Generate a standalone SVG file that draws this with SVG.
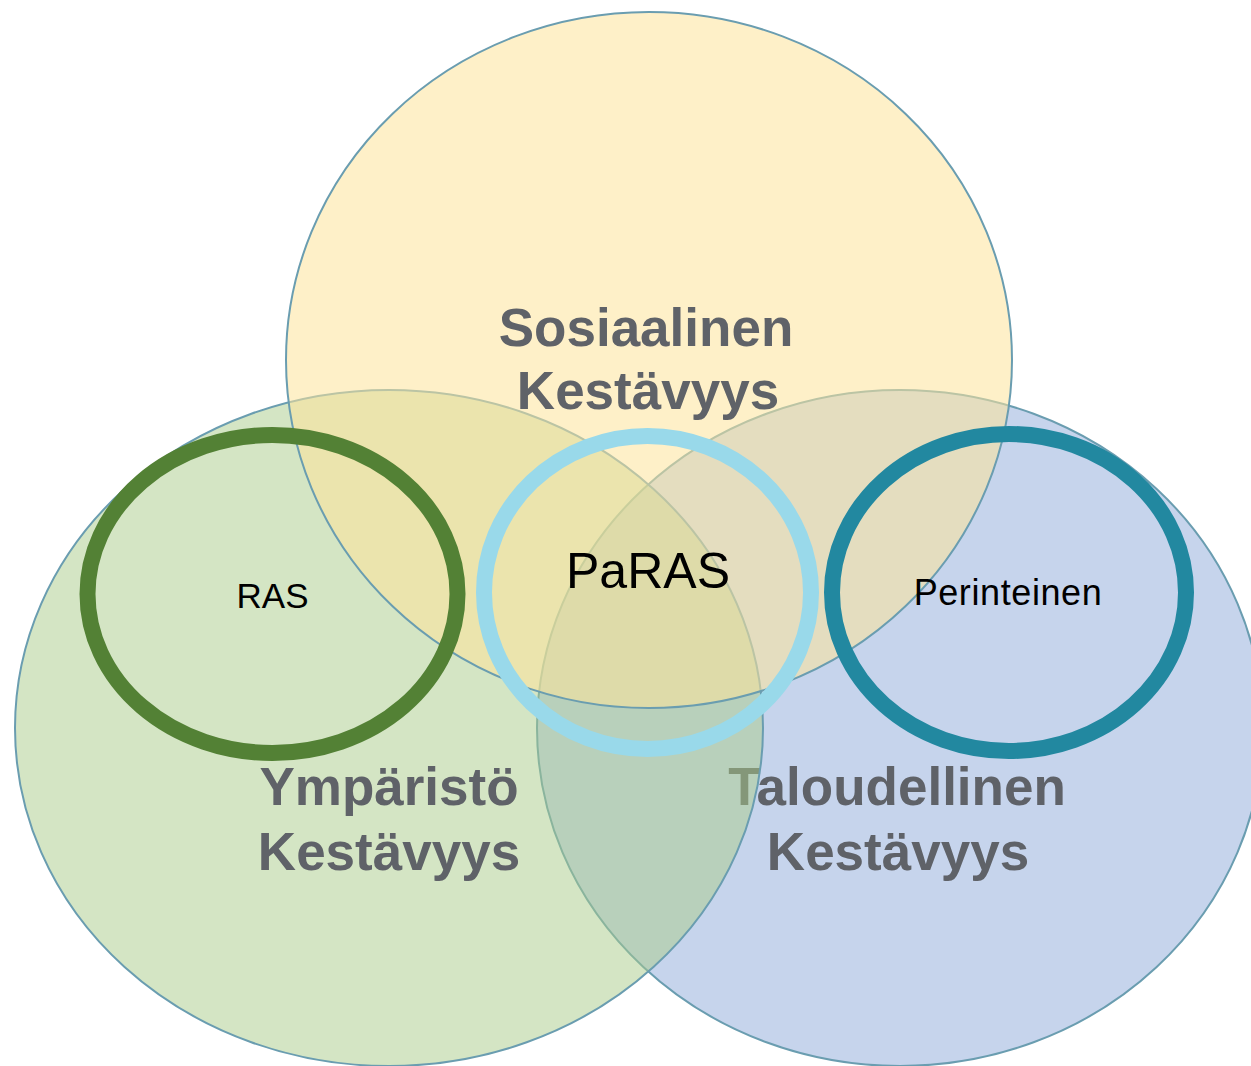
<svg xmlns="http://www.w3.org/2000/svg" width="1251" height="1066" viewBox="0 0 1251 1066">
<style>
.big{stroke:#6a9db0;stroke-width:2}
.lbl{font-family:"Liberation Sans",Arial,sans-serif;font-weight:bold;font-size:53px;fill:#5f6268;text-anchor:middle}
.ring{fill:none;stroke-width:16}
.rt{font-family:"Liberation Sans",Arial,sans-serif;fill:#000;text-anchor:middle}
</style>
<rect width="1251" height="1066" fill="#fff"/>
<g id="taloudellinen">
<ellipse class="big" cx="900" cy="728" rx="363" ry="338" fill="#c6d4ec"/>
<text class="lbl" x="897" y="805">Taloudellinen</text>
<text class="lbl" x="898" y="870">Kestävyys</text>
</g>
<g id="ymparisto">
<ellipse class="big" cx="389" cy="728" rx="374" ry="338" fill="rgb(169,203,137)" fill-opacity="0.5"/>
<text class="lbl" x="389" y="805">Ympäristö</text>
<text class="lbl" x="389" y="870">Kestävyys</text>
</g>
<g id="sosiaalinen">
<ellipse class="big" cx="649" cy="360" rx="363" ry="348" fill="rgb(253,228,155)" fill-opacity="0.55"/>
<text class="lbl" x="646" y="346">Sosiaalinen</text>
<text class="lbl" x="648" y="409">Kestävyys</text>
</g>
<g id="ras">
<ellipse class="ring" cx="272.5" cy="594" rx="185" ry="159" stroke="#538135"/>
<text class="rt" x="272.5" y="608" font-size="35">RAS</text>
</g>
<g id="paras">
<ellipse class="ring" cx="647.5" cy="592.5" rx="163.5" ry="156.5" stroke="#99d9ea"/>
<text class="rt" x="648" y="588" font-size="50">PaRAS</text>
</g>
<g id="perinteinen">
<ellipse class="ring" cx="1009" cy="592.5" rx="177" ry="158.5" stroke="#2288a0"/>
<text class="rt" x="1008" y="605" font-size="36" letter-spacing="0.6">Perinteinen</text>
</g>
<g id="connectors"/>
</svg>
